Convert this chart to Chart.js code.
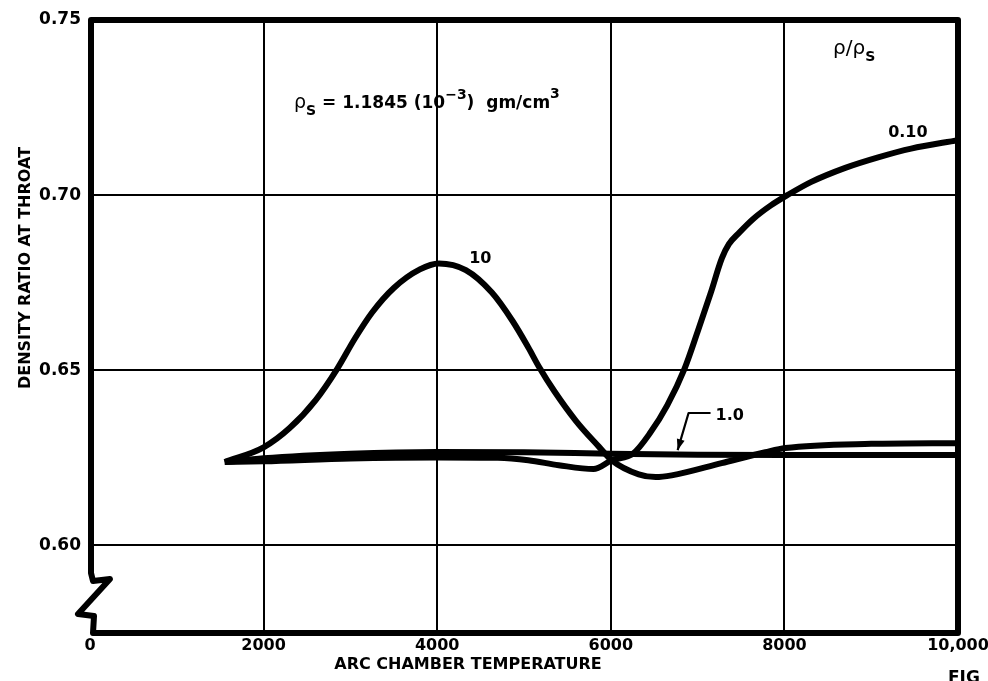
<!DOCTYPE html>
<html>
<head>
<meta charset="utf-8">
<script src="https://cdn.jsdelivr.net/npm/chart.js@4.4.1/dist/chart.umd.min.js"></script>
<style>
html,body{margin:0;padding:0;background:#fff;}
#wrap{width:988px;height:681px;position:relative;overflow:hidden;}
canvas{display:block;}
</style>
</head>
<body>
<div id="wrap"><canvas id="c" width="988" height="681"></canvas></div>
<script>
// ---- tick values and labels ----
const xTicks = [0, 2000, 4000, 6000, 8000, 10000];
const xTickLabels = ['0', '2000', '4000', '6000', '8000', '10,000'];
const yTicks = [0.60, 0.65, 0.70, 0.75];
const yTickLabels = ['0.60', '0.65', '0.70', '0.75'];

// ---- series: rho/rho_s = 10 ----
const tempR10  = [1552, 2000, 2300, 2600, 2850, 3050, 3250, 3500, 3800, 4020, 4330, 4630, 4870, 5050, 5172, 5350, 5600, 5862, 6011, 6322, 6517, 6701, 7276, 7781, 8011, 9000, 10000];
const ratioR10 = [0.6238, 0.6280, 0.6335, 0.6415, 0.6505, 0.6590, 0.6665, 0.6735, 0.6788, 0.6805, 0.6786, 0.6722, 0.6640, 0.6565, 0.6510, 0.6440, 0.6355, 0.6282, 0.6243, 0.6203, 0.6195, 0.6200, 0.6235, 0.6266, 0.6278, 0.6290, 0.6292];

// ---- series: rho/rho_s = 1.0 ----
const tempR1  = [1552, 2000, 3000, 4000, 5000, 6000, 7000, 8000, 9000, 10000];
const ratioR1 = [0.6238, 0.6249, 0.6262, 0.6267, 0.6266, 0.6262, 0.6259, 0.6258, 0.6258, 0.6258];

// ---- series: rho/rho_s = 0.10 ----
const tempR01  = [1552, 2000, 3000, 4000, 4700, 5050, 5400, 5800, 6011, 6260, 6450, 6650, 6850, 7000, 7150, 7280, 7360, 7480, 7640, 7840, 8034, 8310, 8701, 9080, 9460, 10000];
const ratioR01 = [0.6238, 0.6240, 0.6248, 0.6251, 0.6250, 0.6243, 0.6229, 0.6218, 0.6243, 0.6263, 0.6320, 0.6400, 0.6505, 0.6610, 0.6720, 0.6820, 0.6860, 0.6893, 0.6932, 0.6970, 0.7000, 0.7038, 0.7078, 0.7108, 0.7133, 0.7157];

const seriesNames = ['10', '1.0', '0.10'];
const xTitle = 'ARC CHAMBER TEMPERATURE';
const yTitle = 'DENSITY RATIO AT THROAT';
const figLabel = 'FIG';

const FONT = '"DejaVu Sans", sans-serif';

function pts(xs, ys) { return xs.map((x, i) => ({ x: x, y: ys[i] })); }

const lineStyle = {
  borderColor: '#000',
  borderWidth: 6,
  pointRadius: 0,
  fill: false,
  cubicInterpolationMode: 'monotone',
  borderJoinStyle: 'round',
  borderCapStyle: 'butt'
};

// Frame with axis break, annotations and axis titles
const decorPlugin = {
  id: 'decor',
  afterDraw(chart) {
    const ctx = chart.ctx;
    const { left, right, top, bottom } = chart.chartArea;
    const xs = chart.scales.x, ys = chart.scales.y;
    ctx.save();
    // frame with zig-zag break on the left axis
    ctx.strokeStyle = '#000';
    ctx.lineWidth = 6;
    ctx.lineJoin = 'round';
    ctx.lineCap = 'round';
    ctx.beginPath();
    ctx.moveTo(left + 3, bottom);
    ctx.lineTo(right, bottom);
    ctx.lineTo(right, top);
    ctx.lineTo(left + 1, top);
    ctx.lineTo(left + 1, bottom - 60);
    ctx.lineTo(left + 3, bottom - 52);
    ctx.lineTo(left + 20, bottom - 54);
    ctx.lineTo(left - 12, bottom - 19);
    ctx.lineTo(left + 4, bottom - 17);
    ctx.lineTo(left + 3, bottom);
    ctx.stroke();

    ctx.fillStyle = '#000';
    ctx.textBaseline = 'alphabetic';
    ctx.textAlign = 'left';

    // rho_s annotation
    let x = xs.getPixelForValue(2350);
    let y = ys.getPixelForValue(0.7249);
    const parts = [
      { t: 'ρ', f: '19px ' + FONT, dy: 0 },
      { t: 'S', f: 'bold 14px ' + FONT, dy: 7 },
      { t: ' = 1.1845 (10', f: 'bold 17px ' + FONT, dy: 0 },
      { t: '−3', f: 'bold 14px ' + FONT, dy: -9 },
      { t: ')  gm/cm', f: 'bold 17px ' + FONT, dy: 0 },
      { t: '3', f: 'bold 14px ' + FONT, dy: -10 }
    ];
    parts.forEach(p => {
      ctx.font = p.f;
      ctx.fillText(p.t, x, y + p.dy);
      x += ctx.measureText(p.t).width;
    });

    // rho / rho_s header
    x = xs.getPixelForValue(8560);
    y = ys.getPixelForValue(0.7403);
    ctx.font = '20px ' + FONT;
    ctx.fillText('ρ/ρ', x, y);
    x += ctx.measureText('ρ/ρ').width;
    ctx.font = 'bold 14px ' + FONT;
    ctx.fillText('S', x, y + 7);

    // curve labels
    ctx.font = 'bold 16px ' + FONT;
    ctx.fillText(seriesNames[2], xs.getPixelForValue(9195), ys.getPixelForValue(0.7166));
    ctx.fillText(seriesNames[0], xs.getPixelForValue(4368), ys.getPixelForValue(0.6806));
    ctx.fillText(seriesNames[1], xs.getPixelForValue(7207), ys.getPixelForValue(0.6358));

    // leader with arrow for 1.0
    const a1 = [xs.getPixelForValue(7149), ys.getPixelForValue(0.6378)];
    const a2 = [xs.getPixelForValue(6896), ys.getPixelForValue(0.6378)];
    const a3 = [xs.getPixelForValue(6770), ys.getPixelForValue(0.6272)];
    ctx.lineWidth = 2.2;
    ctx.lineCap = 'butt';
    ctx.beginPath();
    ctx.moveTo(a1[0], a1[1]);
    ctx.lineTo(a2[0], a2[1]);
    ctx.lineTo(a3[0], a3[1]);
    ctx.stroke();
    const ang = Math.atan2(a3[1] - a2[1], a3[0] - a2[0]);
    const L = 11, W = 4;
    ctx.beginPath();
    ctx.moveTo(a3[0], a3[1]);
    ctx.lineTo(a3[0] - L * Math.cos(ang) + W * Math.sin(ang), a3[1] - L * Math.sin(ang) - W * Math.cos(ang));
    ctx.lineTo(a3[0] - L * Math.cos(ang) - W * Math.sin(ang), a3[1] - L * Math.sin(ang) + W * Math.cos(ang));
    ctx.closePath();
    ctx.fill();

    // axis titles
    ctx.font = 'bold 16px ' + FONT;
    ctx.textAlign = 'center';
    ctx.textBaseline = 'middle';
    ctx.fillText(xTitle, 468, 665);
    ctx.save();
    ctx.translate(26, 268);
    ctx.rotate(-Math.PI / 2);
    ctx.fillText(yTitle, 0, 0);
    ctx.restore();

    // cut-off figure caption at the bottom right
    ctx.textAlign = 'left';
    ctx.textBaseline = 'alphabetic';
    ctx.font = 'bold 17px ' + FONT;
    ctx.fillText(figLabel, 948, 683);
    ctx.restore();
  }
};

new Chart(document.getElementById('c'), {
  type: 'line',
  data: {
    datasets: [
      Object.assign({ label: seriesNames[0], data: pts(tempR10, ratioR10) }, lineStyle),
      Object.assign({ label: seriesNames[1], data: pts(tempR1, ratioR1) }, lineStyle),
      Object.assign({ label: seriesNames[2], data: pts(tempR01, ratioR01) }, lineStyle)
    ]
  },
  options: {
    responsive: false,
    animation: false,
    devicePixelRatio: 1,
    layout: { padding: { top: 20, right: 30, bottom: 0, left: 0 } },
    plugins: { legend: { display: false }, tooltip: { enabled: false } },
    scales: {
      x: {
        type: 'linear',
        min: 0, max: 10000,
        afterBuildTicks: s => { s.ticks = xTicks.map(v => ({ value: v })); },
        afterFit: s => { s.height = 48; s.paddingRight = 0; s.paddingLeft = 0; },
        ticks: {
          callback: (v, i) => xTickLabels[i],
          color: '#000',
          font: { family: FONT, size: 16, weight: 'bold' },
          maxRotation: 0, autoSkip: false, padding: 3
        },
        grid: {
          color: c => (c.tick && (c.tick.value === 0 || c.tick.value === 10000)) ? 'rgba(0,0,0,0)' : '#000',
          lineWidth: 2,
          drawTicks: false
        },
        border: { display: false }
      },
      y: {
        type: 'linear',
        min: 0.575, max: 0.75,
        afterBuildTicks: s => { s.ticks = yTicks.map(v => ({ value: v })); },
        afterFit: s => { s.width = 90; },
        ticks: {
          callback: (v, i) => yTickLabels[i],
          color: '#000',
          font: { family: FONT, size: 17, weight: 'bold' },
          autoSkip: false, padding: 9
        },
        grid: {
          color: c => (c.tick && c.tick.value === 0.75) ? 'rgba(0,0,0,0)' : '#000',
          lineWidth: 2,
          drawTicks: false
        },
        border: { display: false }
      }
    }
  },
  plugins: [decorPlugin]
});
</script>
</body>
</html>
